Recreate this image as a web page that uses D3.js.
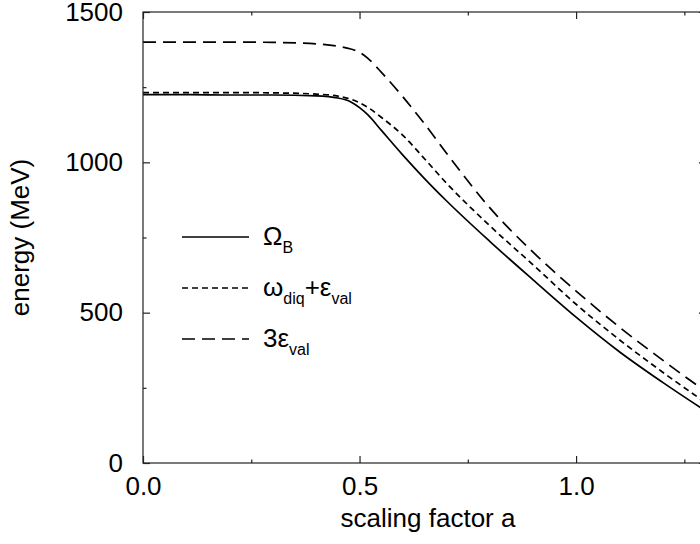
<!DOCTYPE html>
<html>
<head>
<meta charset="utf-8">
<script src="https://cdn.jsdelivr.net/npm/d3@7"></script>
<style>
  body { margin: 0; background: #fff; }
  text { font-family: Arial, "Liberation Sans", Helvetica, sans-serif; }
</style>
</head>
<body>
<div id="chart"></div>
<script>
// scaling factor a
const aValues = [0, 0.1, 0.2, 0.3, 0.4, 0.45, 0.48, 0.5, 0.52, 0.55, 0.6, 0.65, 0.7, 0.8, 0.9, 1.0, 1.1, 1.2, 1.3]
// energies in MeV
const omegaB = [1225, 1225, 1224, 1224, 1221, 1214, 1201, 1182, 1157, 1107, 1024, 946, 873, 738, 610, 485, 370, 268, 172]
const diqVal = [1232, 1232, 1232, 1231, 1227, 1220, 1210, 1198, 1182, 1150, 1090, 1012, 932, 790, 660, 528, 410, 302, 200]
const threeVal = [1400, 1400, 1400, 1399, 1394, 1386, 1377, 1366, 1345, 1300, 1218, 1128, 1032, 850, 702, 572, 452, 342, 237]

const xTicks = [0, 0.5, 1.0]
const xMinor = [0.25, 0.75, 1.25]
const yTicks = [0, 500, 1000, 1500]
const yMinor = [250, 750, 1250]

const w = 700
const h = 544
const margin = { left: 143, right: 706, top: 12, bottom: 463 }

const x = d3.scaleLinear().domain([0, 1.3]).range([margin.left, margin.right])
const y = d3.scaleLinear().domain([0, 1500]).range([margin.bottom, margin.top])

const svg = d3.select('#chart')
  .append('svg')
  .attr('width', w)
  .attr('height', h)

const series = [
  { name: 'omega', values: omegaB, dash: null },
  { name: 'diq', values: diqVal, dash: '6,4' },
  { name: 'three', values: threeVal, dash: '13,7' }
]

const line = d3.line()
  .x(d => x(d[0]))
  .y(d => y(d[1]))
  .curve(d3.curveMonotoneX)

svg.selectAll('path.curve')
  .data(series)
  .enter()
  .append('path')
  .attr('class', 'curve')
  .attr('fill', 'none')
  .attr('stroke', '#000')
  .attr('stroke-width', 1.7)
  .attr('stroke-dasharray', d => d.dash)
  .attr('d', d => line(aValues.map((a, i) => [a, d.values[i]])))

// frame
svg.append('rect')
  .attr('x', margin.left)
  .attr('y', margin.top)
  .attr('width', margin.right - margin.left)
  .attr('height', margin.bottom - margin.top)
  .attr('fill', 'none')
  .attr('stroke', '#222')
  .attr('stroke-width', 1.2)

const tickFont = '26px'

function styleAxis(g) {
  g.select('.domain').remove()
  g.selectAll('line').attr('stroke', '#222').attr('stroke-width', 1.2)
  g.selectAll('text').attr('font-size', tickFont).attr('fill', '#000')
    .style('font-family', 'Arial, "Liberation Sans", sans-serif')
}

svg.append('g')
  .attr('transform', 'translate(0,' + margin.bottom + ')')
  .call(d3.axisBottom(x).tickValues(xTicks).tickSize(-7).tickPadding(14).tickFormat(d3.format('.1f')))
  .call(styleAxis)
svg.append('g')
  .attr('transform', 'translate(0,' + margin.bottom + ')')
  .call(d3.axisBottom(x).tickValues(xMinor).tickSize(-3.5).tickFormat(''))
  .call(styleAxis)
svg.append('g')
  .attr('transform', 'translate(0,' + margin.top + ')')
  .call(d3.axisTop(x).tickValues(xTicks).tickSize(-7).tickFormat(''))
  .call(styleAxis)
svg.append('g')
  .attr('transform', 'translate(0,' + margin.top + ')')
  .call(d3.axisTop(x).tickValues(xMinor).tickSize(-3.5).tickFormat(''))
  .call(styleAxis)

svg.append('g')
  .attr('transform', 'translate(' + margin.left + ',0)')
  .call(d3.axisLeft(y).tickValues(yTicks).tickSize(-7).tickPadding(20).tickFormat(d3.format('d')))
  .call(styleAxis)
svg.append('g')
  .attr('transform', 'translate(' + margin.left + ',0)')
  .call(d3.axisLeft(y).tickValues(yMinor).tickSize(-3.5).tickFormat(''))
  .call(styleAxis)
svg.append('g')
  .attr('transform', 'translate(' + margin.right + ',0)')
  .call(d3.axisRight(y).tickValues(yTicks).tickSize(-7).tickFormat(''))
  .call(styleAxis)
svg.append('g')
  .attr('transform', 'translate(' + margin.right + ',0)')
  .call(d3.axisRight(y).tickValues(yMinor).tickSize(-3.5).tickFormat(''))
  .call(styleAxis)

// axis titles
svg.append('text')
  .attr('x', 428)
  .attr('y', 527)
  .attr('text-anchor', 'middle')
  .attr('font-size', '26px')
  .text('scaling factor a')

svg.append('text')
  .attr('transform', 'translate(29,' + ((margin.top + margin.bottom) / 2) + ') rotate(-90)')
  .attr('text-anchor', 'middle')
  .attr('font-size', '26px')
  .text('energy (MeV)')

// legend
const legendRows = [
  { dash: null, main: ['Ω'], subs: ['B'] },
  { dash: '6,4', main: ['ω', '+ε'], subs: ['diq', 'val'] },
  { dash: '13,7', main: ['3ε'], subs: ['val'] }
]

const legend = svg.append('g')
  .selectAll('g')
  .data(legendRows)
  .enter()
  .append('g')
  .attr('transform', (d, i) => 'translate(182,' + (237 + i * 51) + ')')

legend.append('line')
  .attr('x1', 0)
  .attr('x2', 67)
  .attr('stroke', '#000')
  .attr('stroke-width', 1.7)
  .attr('stroke-dasharray', d => d.dash)

legend.each(function (d) {
  const t = d3.select(this).append('text')
    .attr('x', 81)
    .attr('y', 8)
    .attr('font-size', '26px')
  d.main.forEach((m, i) => {
    t.append('tspan').attr('dy', i === 0 ? 0 : -8).text(m)
    t.append('tspan').attr('dy', 8).attr('font-size', '16px').text(d.subs[i])
  })
})
</script>
</body>
</html>
